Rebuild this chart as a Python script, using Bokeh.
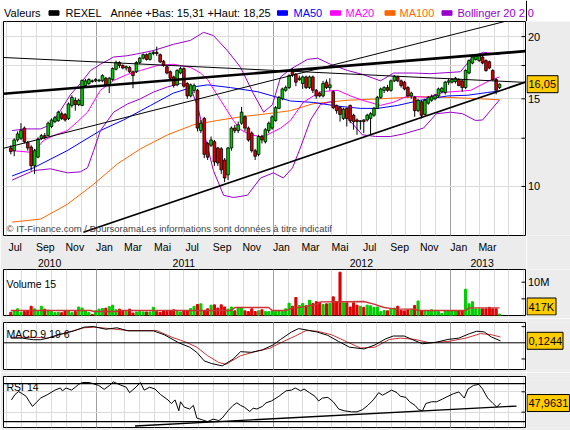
import datetime as dt
from bokeh.plotting import figure
from bokeh.layouts import column, row
from bokeh.models import (Range1d, LinearAxis, FixedTicker, Grid, Label, Span,
                          ColumnDataSource)
from bokeh.embed import file_html
from bokeh.resources import INLINE
from bokeh.core.properties import value

# ---------------- data (weekly candles from 2010-07-09) ----------------
BASE = dt.date(2010, 7, 9)
OPEN = [11.95, 11.8, 12.4, 12.5, 13.1, 12.25, 12.0, 11.0, 11.45, 12.5, 12.65, 12.65, 13.2, 13.5, 13.55,
        14.0, 13.95, 13.7, 14.55, 14.9, 14.6, 14.55, 15.95, 16.1, 16.3, 16.3, 16.3, 16.3, 16.5, 16.0,
        16.4, 17.2, 17.75, 17.5, 17.3, 17.35, 17.0, 17.0, 17.75, 18.1, 18.4, 18.0, 18.5, 18.6, 18.4,
        17.85, 17.4, 17.0, 16.6, 16.0, 16.9, 17.25, 16.1, 15.2, 15.6, 15.6, 12.95, 13.7, 12.2, 12.1,
        12.3, 11.95, 11.9, 11.3, 10.55, 11.95, 13.1, 12.95, 13.4, 13.8, 13.1, 12.8, 11.8, 11.6, 12.6,
        12.3, 12.95, 13.1, 13.55, 14.35, 15.0, 15.6, 15.8, 17.0, 16.8, 16.4, 16.1, 16.6, 15.8, 16.6,
        15.6, 15.4, 15.2, 16.2, 15.8, 15.5, 14.55, 14.4, 13.7, 14.35, 14.55, 13.9, 13.6, 13.5, 13.6,
        13.6, 13.7, 13.9, 14.35, 15.1, 15.6, 15.8, 15.6, 16.3, 16.6, 16.3, 16.2, 15.8, 15.2, 15.1,
        14.2, 14.8, 13.95, 14.7, 14.9, 15.0, 15.2, 15.5, 15.45, 16.2, 16.2, 16.25, 16.4, 16.3, 15.8,
        16.9, 17.7, 18.0, 17.9, 18.2, 17.9, 17.8, 17.1, 16.4, 15.8]
HIGH = [12.1, 12.5, 12.9, 13.4, 13.2, 12.35, 12.1, 11.9, 12.55, 12.75, 12.8, 13.5, 13.7, 13.85, 14.2,
        14.15, 14.05, 14.75, 15.25, 15.1, 15.0, 16.4, 16.45, 16.5, 16.4, 16.5, 16.45, 16.8, 16.6, 16.6,
        17.35, 17.9, 17.85, 17.6, 17.5, 17.45, 17.1, 17.85, 18.2, 18.5, 18.5, 18.6, 18.75, 19.1, 18.5,
        17.95, 17.5, 17.1, 16.7, 17.2, 17.4, 17.35, 16.2, 16.1, 16.1, 15.7, 13.6, 13.8, 12.3, 12.6,
        12.4, 12.0, 12.0, 11.4, 12.0, 13.2, 13.3, 13.5, 14.45, 13.9, 13.2, 12.9, 11.9, 12.7, 12.7,
        13.1, 13.5, 13.9, 14.5, 15.2, 15.8, 15.95, 16.8, 17.3, 16.9, 16.7, 16.7, 16.7, 16.7, 16.7,
        15.7, 15.5, 16.3, 16.4, 16.5, 15.6, 14.6, 14.5, 14.4, 14.4, 14.6, 14.0, 13.7, 13.6, 13.65,
        14.0, 14.1, 14.45, 15.2, 15.8, 15.9, 16.0, 16.4, 16.75, 16.7, 16.4, 16.3, 15.9, 15.5, 15.2,
        15.0, 14.9, 15.0, 15.2, 15.3, 15.35, 15.8, 15.85, 16.3, 16.5, 16.5, 16.6, 16.5, 16.4, 17.2,
        18.0, 18.3, 18.4, 18.4, 18.3, 18.0, 17.9, 17.2, 16.5, 16.1]
LOW = [11.6, 11.5, 12.3, 12.4, 12.2, 11.8, 10.76, 10.6, 11.4, 12.4, 12.45, 12.6, 13.1, 13.4, 13.5,
       13.6, 13.5, 13.6, 14.4, 14.2, 14.5, 14.5, 15.85, 16.0, 16.15, 16.2, 16.2, 16.2, 15.9, 15.4,
       16.3, 17.1, 17.3, 17.2, 17.1, 16.9, 15.75, 16.9, 17.6, 18.0, 17.9, 17.9, 18.35, 18.3, 17.7,
       17.4, 16.8, 16.4, 15.8, 15.9, 16.8, 15.8, 15.0, 15.1, 15.4, 12.9, 12.8, 11.4, 11.3, 12.0,
       11.0, 11.0, 10.6, 10.2, 10.3, 11.8, 12.8, 12.8, 13.3, 12.9, 12.3, 11.7, 11.3, 11.5, 12.2,
       12.2, 12.8, 13.0, 13.5, 14.3, 14.9, 15.5, 15.7, 16.6, 15.9, 16.3, 15.7, 15.7, 15.7, 15.4,
       15.0, 15.1, 15.1, 15.7, 15.6, 14.3, 14.0, 13.5, 13.6, 13.2, 13.4, 13.0, 12.7, 13.0, 12.8,
       13.5, 12.7, 13.8, 14.3, 15.0, 15.4, 15.5, 15.5, 16.2, 16.2, 15.8, 15.6, 15.1, 15.0, 13.8,
       14.1, 13.7, 13.9, 14.6, 14.8, 14.9, 15.1, 15.4, 15.3, 16.0, 16.1, 16.1, 15.9, 15.5, 15.7,
       16.8, 17.6, 17.9, 17.8, 17.6, 17.0, 17.2, 16.3, 15.31, 15.7]
CLOSE = [11.75, 12.4, 12.75, 12.95, 12.3, 11.95, 11.0, 11.8, 12.45, 12.65, 12.55, 13.4, 13.6, 13.75, 14.1,
         13.7, 13.6, 14.65, 15.1, 14.6, 14.9, 16.33, 16.3, 16.4, 16.25, 16.4, 16.35, 16.7, 16.0, 16.5,
         17.25, 17.75, 17.5, 17.3, 17.4, 17.0, 16.7, 17.75, 18.1, 18.4, 18.0, 18.5, 18.6, 18.5, 17.8,
         17.5, 16.9, 16.5, 15.95, 17.1, 17.25, 15.9, 15.2, 16.0, 15.95, 13.1, 13.4, 11.6, 11.45, 12.4,
         11.2, 11.15, 10.8, 10.4, 11.95, 13.1, 12.95, 13.3, 14.1, 13.1, 12.4, 11.8, 11.5, 12.6, 12.4,
         13.0, 13.4, 13.8, 14.4, 15.1, 15.7, 15.8, 16.7, 16.75, 16.2, 16.5, 16.6, 15.8, 16.6, 15.6,
         15.2, 15.2, 16.1, 15.8, 16.0, 14.4, 14.2, 13.95, 14.3, 13.7, 13.55, 13.5, 13.5, 13.55, 13.5,
         13.9, 14.0, 14.35, 15.1, 15.7, 15.8, 15.6, 16.3, 16.65, 16.3, 15.95, 15.7, 15.2, 15.4, 14.2,
         14.9, 13.9, 14.9, 15.1, 15.15, 15.25, 15.7, 15.75, 16.2, 16.3, 16.4, 16.5, 15.95, 15.8, 17.1,
         17.9, 18.2, 18.25, 18.3, 17.7, 17.1, 17.3, 16.4, 15.6, 16.05]
VOLUME_M = [0.96, 1.4, 2.0, 0.96, 1.17, 1.4, 2.77, 2.0, 1.17, 2.77, 1.9, 1.6, 1.17, 0.85, 0.96,
            0.85, 1.4, 1.4, 0.85, 1.17, 2.55, 2.23, 1.4, 0.85, 0.32, 1.4, 1.9, 2.1, 2.2, 2.65,
            3.1, 1.7, 1.9, 1.4, 1.17, 1.9, 0.75, 1.06, 1.17, 1.06, 1.06, 1.06, 2.45, 1.17, 0.96,
            1.4, 1.28, 1.4, 1.7, 1.17, 1.06, 1.4, 1.4, 2.1, 2.77, 3.3, 3.5, 1.4, 2.0, 3.1,
            3.2, 2.23, 3.2, 2.55, 1.9, 2.55, 1.4, 2.23, 2.23, 1.4, 1.17, 2.0, 1.17, 1.4, 1.7,
            1.17, 1.17, 1.4, 1.17, 1.4, 1.17, 2.0, 3.7, 2.77, 5.4, 3.0, 3.6, 2.9, 4.6, 3.6,
            4.15, 4.0, 3.3, 3.5, 3.6, 5.6, 4.15, 13.0, 3.8, 3.8, 2.55, 3.8, 3.1, 2.77, 2.45,
            3.1, 2.9, 2.45, 2.55, 1.17, 1.5, 1.4, 1.9, 2.23, 2.77, 1.5, 1.4, 1.7, 1.9, 3.0,
            4.36, 1.4, 1.4, 1.4, 1.7, 1.4, 1.17, 0.64, 1.4, 1.4, 1.4, 1.4, 1.4, 1.4, 7.9,
            3.5, 4.15, 2.0, 2.0, 2.0, 2.0, 2.45, 2.0, 2.0, 0.42]

# indicator curves, x in weeks since first candle
MA50_W = [0.4, 6.7, 16.6, 26.4, 33.2, 41.2, 47.9, 53.8, 58.0, 64.7, 72.7, 78.6, 82.4, 89.2, 96.3,
          103.0, 108.1, 114.0, 120.7, 128.7, 134.6, 140.5, 144.0]
MA50 = [10.5, 10.9, 11.8, 12.95, 13.6, 14.55, 15.4, 15.85, 16.0, 15.8, 15.5, 15.1, 14.85, 14.75, 14.5,
        14.35, 14.35, 14.55, 14.9, 15.2, 15.25, 15.45, 15.55]
MA100_W = [0.4, 8.8, 16.6, 24.4, 31.4, 38.2, 46.2, 53.8, 60.9, 67.7, 75.6, 82.4, 89.2, 99.2, 108.9,
           120.7, 128.7, 138.4, 144.0]
MA100 = [8.48, 8.6, 9.2, 10.1, 11.1, 11.9, 12.7, 13.3, 13.57, 13.8, 14.0, 14.2, 14.67, 14.9, 15.0,
         15.15, 15.1, 15.0, 14.93]
MA20_W = [0.4, 6.7, 9.6, 13.2, 16.7, 19.7, 22.6, 26.4, 30.3, 34.4, 38.2, 43.2, 47.9, 52.9, 55.9,
          58.0, 59.7, 61.8, 65.6, 67.7, 70.6, 73.6, 75.6, 79.5, 82.4, 86.2, 91.2, 96.3, 100.1, 103.6,
          108.9, 112.8, 116.9, 122.5, 127.5, 135.5, 141.3, 144.0]
MA20 = [11.8, 11.7, 12.37, 12.7, 12.95, 13.5, 14.1, 15.6, 16.33, 16.8, 17.1, 17.5, 17.6, 17.35, 16.9,
        16.4, 15.7, 14.9, 13.57, 13.0, 12.7, 12.6, 12.7, 13.1, 13.57, 14.77, 15.5, 15.6, 15.2, 14.9,
        14.55, 14.77, 15.2, 15.1, 15.45, 15.6, 16.35, 16.6]
BBU_W = [0.4, 4.3, 8.8, 11.7, 14.6, 17.6, 20.5, 23.5, 26.4, 30.3, 34.1, 37.0, 42.0, 47.9, 52.9,
         56.8, 59.7, 63.8, 67.7, 71.5, 74.5, 77.1, 79.5, 82.4, 87.4, 90.4, 94.2, 99.2, 103.6, 108.9,
         112.8, 118.6, 123.7, 132.5, 136.3, 139.3, 144.0]
BBU = [12.95, 13.05, 13.05, 13.3, 14.2, 15.3, 16.1, 17.1, 17.6, 18.2, 18.3, 18.45, 18.75, 19.3, 19.65,
       20.4, 20.1, 18.75, 17.35, 15.35, 14.1, 14.6, 16.6, 17.2, 18.0, 18.1, 17.6, 17.1, 16.8, 16.3,
       16.9, 16.9, 16.85, 17.0, 18.3, 18.6, 18.4]
BBL_W = [0.4, 6.7, 11.7, 16.7, 20.5, 22.6, 24.4, 26.4, 30.3, 34.4, 38.2, 42.0, 46.2, 50.0, 52.9,
         55.0, 56.8, 59.7, 62.7, 65.6, 69.7, 73.6, 77.4, 80.3, 83.0, 85.4, 88.3, 91.2, 94.2, 97.1,
         100.1, 103.6, 107.5, 111.9, 115.7, 121.6, 125.4, 129.6, 133.1, 136.9, 139.0, 141.3, 144.0]
BBL = [10.3, 10.76, 10.85, 10.65, 10.7, 10.9, 11.8, 12.95, 14.1, 14.65, 15.0, 15.47, 15.85, 16.1, 15.85,
       14.5, 12.95, 10.76, 9.6, 9.5, 9.6, 10.4, 10.65, 10.4, 10.9, 12.0, 13.6, 14.6, 14.8, 14.3,
       13.5, 12.7, 12.6, 12.6, 12.75, 13.1, 14.0, 14.1, 14.0, 13.57, 13.6, 14.2, 14.93]

# drawn trend lines: (weeks, prices)
TREND_THICK_W, TREND_THICK = [-2.15, 151.6], [15.35, 18.7]
TREND_DOWN_W, TREND_DOWN = [-2.15, 151.9], [18.16, 16.18]
TREND_UP_W, TREND_UP = [-2.15, 151.9], [11.93, 22.0]
TREND_SUPPORT_W, TREND_SUPPORT = [21.4, 151.6], [8.09, 16.2]

VMA_W = [0, 23.5, 24.5, 31, 32, 65, 66, 76, 77, 81, 83, 86, 90, 91.5, 104, 107, 110, 113.5, 119, 120,
         134, 135, 144]
VMA = [1.5, 1.5, 1.2, 1.2, 1.5, 1.5, 2.4, 2.4, 1.5, 1.5, 2.2, 2.6, 3.3, 4.1, 4.2, 3.4, 2.4, 1.9, 1.9,
       1.5, 1.5, 2.3, 2.3]

MACD_W = [0, 3.4, 6.6, 8.8, 10.9, 14.1, 18.4, 21.6, 24.3, 28.0, 31.3, 34.5, 42.0, 45.2, 49.5, 52.7,
          54.8, 57.0, 59.1, 62.3, 65.5, 67.7, 70.9, 74.1, 77.3, 79.5, 82.7, 84.8, 87.0, 90.2, 93.4,
          96.6, 99.8, 104.1, 107.3, 110.5, 112.7, 115.9, 119.1, 121.3, 125.5, 128.8, 132.0, 135.2,
          137.3, 139.5, 141.6, 144.3]
MACD = [0.29, 0.29, 0.19, 0.19, 0.29, 0.5, 0.72, 0.97, 1.01, 0.84, 0.93, 0.74, 0.74, 0.5, 0.0, -0.27,
        -0.59, -1.12, -1.28, -1.43, -1.01, -0.55, -0.59, -0.44, -0.13, 0.21, 0.67, 0.88, 0.8, 0.67,
        0.46, 0.08, -0.27, -0.38, -0.13, 0.25, 0.42, 0.42, 0.13, -0.06, 0.04, 0.21, 0.29, 0.57, 0.72,
        0.67, 0.36, 0.12]
SIG_W = [0, 7.7, 10.9, 16.3, 21.6, 24.8, 29.1, 34.5, 43.0, 47.3, 51.6, 54.8, 58.0, 61.3, 63.4, 67.7,
         72.0, 76.3, 79.5, 83.8, 87.0, 90.2, 94.5, 98.8, 103.0, 107.3, 111.6, 114.8, 119.1, 123.4,
         128.8, 134.1, 138.4, 141.6, 144.3]
SIG = [0.34, 0.34, 0.29, 0.63, 0.93, 0.97, 0.88, 0.76, 0.76, 0.36, 0.04, -0.27, -0.8, -1.22, -1.33,
       -0.8, -0.55, -0.34, 0.0, 0.42, 0.76, 0.72, 0.5, 0.08, -0.32, -0.27, 0.21, 0.29, 0.21, 0.0,
       0.08, 0.29, 0.57, 0.5, 0.36]

RSI_W = [0.2, 1.25, 2.3, 3.4, 4.5, 5.5, 6.4, 7.7, 8.8, 10.9, 13.0, 14.6, 15.2, 16.3, 17.9, 19.0, 20.0,
         21.1, 23.2, 24.8, 25.9, 27.5, 29.1, 30.2, 31.8, 34.0, 35.0, 36.6, 38.2, 39.3, 40.9, 42.5,
         44.1, 46.3, 47.3, 48.4, 49.5, 50.0, 51.1, 52.7, 53.8, 54.8, 56.4, 58.0, 59.6, 61.3, 62.3,
         64.0, 65.5, 66.6, 67.7, 68.8, 70.4, 71.4, 72.5, 74.1, 75.2, 76.8, 79.0, 81.1, 82.7, 83.8,
         85.4, 86.4, 88.0, 89.6, 90.7, 91.8, 93.4, 95.0, 96.6, 98.2, 100.4, 102.0, 103.6, 105.2,
         106.8, 108.4, 109.5, 110.5, 112.2, 113.8, 114.8, 116.4, 117.5, 119.1, 120.2, 121.3, 122.3,
         124.0, 125.5, 127.1, 128.8, 130.4, 132.0, 133.6, 134.7, 136.3, 137.9, 139.0, 140.5, 142.1,
         143.2, 144.3]
RSI = [54.1, 64.8, 70.4, 66.2, 61.2, 50.5, 41.3, 50.5, 57.7, 64.8, 73.3, 77.5, 71.9, 77.5, 73.3, 79.0,
       84.7, 88.2, 88.2, 84.7, 82.5, 74.7, 82.5, 89.6, 84.7, 79.0, 68.3, 77.5, 88.2, 73.3, 79.0, 75.4,
       64.8, 54.1, 47.0, 54.1, 32.8, 50.5, 39.9, 36.3, 43.4, 18.6, 15.0, 11.5, 16.4, 13.6, 18.6, 32.8,
       43.4, 48.4, 43.4, 39.9, 31.4, 37.8, 36.3, 41.3, 48.4, 52.0, 61.2, 71.9, 73.3, 77.5, 71.9, 75.4,
       68.3, 61.2, 52.0, 57.7, 59.1, 50.5, 36.3, 32.8, 30.7, 30.7, 34.9, 43.4, 54.1, 68.3, 63.3, 66.9,
       73.3, 68.3, 61.2, 59.1, 50.5, 43.4, 34.9, 32.8, 47.0, 50.5, 50.5, 55.5, 61.2, 66.2, 69.7, 57.7,
       75.4, 82.5, 84.7, 75.4, 57.7, 47.0, 40.0, 47.96]
RSI_TREND_W, RSI_TREND = [36.6, 149.0], [3.0, 42.0]
RSI_BANDS = [86.1, 11.5]

MONTH_NAMES = {1: "Jan", 3: "Mar", 5: "Mai", 7: "Jul", 9: "Sep", 11: "Nov"}
YEAR_LABELS = {"2010": dt.date(2010, 9, 27), "2011": dt.date(2011, 7, 1),
               "2012": dt.date(2012, 7, 1), "2013": dt.date(2013, 3, 7)}

# ---------------- layout helpers ----------------
FONT = "Liberation Sans"
GRAY = "#ECECEC"
GREEN = "#00CC00"
RED = "#DD0000"
YELLOW = "#FFCC00"
FW = 523      # plot frame width
SW = 44       # right label column width


def days(d):
    return (d - BASE).days


def wk(ws):
    return [w * 7 for w in ws]


MONTH_STARTS, MONTH_LABEL_POS, MONTH_OVR = [], [], {}
y, m = 2010, 7
while (y, m) <= (2013, 6):
    d0 = days(dt.date(y, m, 1))
    MONTH_STARTS.append(d0)
    if m in MONTH_NAMES and (y, m) <= (2013, 3):
        MONTH_LABEL_POS.append(d0 + 17)
        MONTH_OVR[d0 + 17] = MONTH_NAMES[m]
    m += 1
    if m > 12:
        y, m = y + 1, 1
YEAR_STARTS = [days(dt.date(yy, 1, 1)) for yy in (2011, 2012, 2013)]
YEAR_POS = [days(d) for d in YEAR_LABELS.values()]
YEAR_OVR = {days(d): t for t, d in YEAR_LABELS.items()}

XR = Range1d(-15.05, 1063.6)


def base_fig(**kw):
    p = figure(toolbar_location=None, output_backend="svg", x_axis_location=None,
               y_axis_location=None, **kw)
    p.grid.visible = False
    return p


def panel(fh, yr, top, bottom, ticks, ytype="linear"):
    p = base_fig(frame_width=FW, frame_height=fh, x_range=XR, y_range=yr, y_axis_type=ytype,
                 min_border_left=3, min_border_right=0, min_border_top=top,
                 min_border_bottom=bottom, background_fill_color="white",
                 border_fill_color=GRAY, outline_line_color="black", outline_line_width=1)
    p.add_layout(Grid(dimension=0, ticker=FixedTicker(ticks=MONTH_STARTS),
                      grid_line_color="#DCDCDC"))
    p.add_layout(Grid(dimension=0, ticker=FixedTicker(ticks=YEAR_STARTS),
                      grid_line_color="#A0A0A0"))
    # inward tick marks on the right edge (half of each dash is clipped away)
    p.scatter(x=[XR.end] * len(ticks), y=ticks, marker="dash", size=10,
              line_color="black", line_width=1)
    s = base_fig(frame_width=SW, frame_height=fh, x_range=Range1d(0, SW), y_range=yr,
                 y_axis_type=ytype, min_border_left=0, min_border_right=0,
                 min_border_top=top, min_border_bottom=bottom,
                 background_fill_color=GRAY, border_fill_color=GRAY,
                 outline_line_color=None)
    return p, s


def side_labels(s, yvals, texts):
    s.text(x=[1.5] * len(yvals), y=yvals, text=texts, text_font=value(FONT),
           text_font_size="11px", text_baseline="middle", text_color="black")


def value_box(s, yv, text, w):
    s.rect(x=[0.5 + w / 2], y=[yv], width=[w], height=17, height_units="screen",
           fill_color=YELLOW, line_color="black", line_width=1)
    s.text(x=[2], y=[yv], text=[text], text_font=value(FONT), text_font_size="11px",
           text_baseline="middle", text_color="black")


def corner_label(p, fh, text, dy):
    p.add_layout(Label(x=3, y=fh - dy, x_units="screen", y_units="screen", text=text,
                       text_font=FONT, text_font_size="10.5px", text_baseline="middle",
                       text_color="black"))


# ---------------- header legend ----------------
hdr = base_fig(width=FW + 3 + SW, height=21, x_range=Range1d(0, FW + 3 + SW),
               y_range=Range1d(0, 21), min_border=0, outline_line_color=None,
               background_fill_color="white", border_fill_color="white")
LEG_TEXT = ["Valeurs", "REXEL", "Année +Bas: 15,31 +Haut: 18,25", "MA50", "MA20", "MA100",
            "Bollinger 20 2,0"]
LEG_TEXT_COL = ["black", "black", "black", "#0000FF", "#FF00FF", "#FF6600", "#9900CC"]
LEG_TEXT_X = [3.6, 65, 110, 293, 345, 399, 457]
LEG_BOX_COL = ["black", "#0000FF", "#FF00FF", "#FF6600", "#9900CC"]
LEG_BOX_X = [53.5, 282, 335, 389.5, 446.5]
hdr.text(x=LEG_TEXT_X, y=[8.5] * len(LEG_TEXT), text=LEG_TEXT, text_color=LEG_TEXT_COL,
         text_font=value(FONT), text_font_size="11px", text_baseline="middle")
hdr.rect(x=LEG_BOX_X, y=[8.5] * len(LEG_BOX_X), width=10, height=4.5, color=LEG_BOX_COL)
hdr.segment(x0=[FW + 3], y0=[0], x1=[FW + 3], y1=[21], color="black", line_width=1)

# ---------------- main price panel ----------------
main, main_s = panel(214, Range1d(7.97, 21.45), 0, 34, [10, 12.5, 15, 17.5, 20], ytype="log")
main.add_layout(Grid(dimension=1, ticker=FixedTicker(ticks=[10, 12.5, 15, 17.5, 20]),
                     grid_line_color="#DCDCDC"))
xs = [7 * i for i in range(len(CLOSE))]
cols = [GREEN if c >= o else RED for o, c in zip(OPEN, CLOSE)]
src = ColumnDataSource(dict(x=xs, o=OPEN, h=HIGH, l=LOW, c=CLOSE, col=cols,
                            top=[max(o, c) for o, c in zip(OPEN, CLOSE)],
                            bot=[min(o, c) for o, c in zip(OPEN, CLOSE)]))

main.line(wk(MA100_W), MA100, color="#FF6600", line_width=1)
main.line(wk(MA50_W), MA50, color="#0000FF", line_width=1)
main.line(wk(MA20_W), MA20, color="#FF00FF", line_width=1)
main.line(wk(BBU_W), BBU, color="#9900CC", line_width=1)
main.line(wk(BBL_W), BBL, color="#9900CC", line_width=1)
main.segment(x0="x", y0="l", x1="x", y1="h", source=src, color="black", line_width=1)
main.vbar(x="x", width=5.5, top="top", bottom="bot", source=src, fill_color="col",
          line_color="black", line_width=0.8)
main.line(wk(TREND_DOWN_W), TREND_DOWN, color="black", line_width=1)
main.line(wk(TREND_UP_W), TREND_UP, color="black", line_width=1)
main.line(wk(TREND_THICK_W), TREND_THICK, color="black", line_width=2.6)
main.line(wk(TREND_SUPPORT_W), TREND_SUPPORT, color="black", line_width=1.8)

for ticks, ovr, standoff in ((MONTH_LABEL_POS, MONTH_OVR, 5), (YEAR_POS, YEAR_OVR, 3)):
    ax = LinearAxis(ticker=FixedTicker(ticks=ticks), major_label_overrides=ovr,
                    axis_line_color=None, major_tick_in=0, major_tick_out=0,
                    major_label_standoff=standoff, major_label_text_font=FONT,
                    major_label_text_font_size="10.5px", major_label_text_color="black")
    main.add_layout(ax, "below")
main.add_layout(Label(x=3, y=7, x_units="screen", y_units="screen",
                      text="© IT-Finance.com / BoursoramaLes informations sont données à titre indicatif",
                      text_font=FONT, text_font_size="9.5px", text_baseline="middle"))
side_labels(main_s, [10, 15, 20], ["10", "15", "20"])
value_box(main_s, 16.05, "16,05", 31)

# ---------------- volume panel ----------------
vol, vol_s = panel(46, Range1d(0, 13.81), 0, 3, [5, 10])
vol.vbar(x=xs, top=VOLUME_M, width=4.3, color=cols)
vol.line(wk(VMA_W), VMA, color="#CC3333", line_width=1.4)
corner_label(vol, 46, "Volume 15", 14)
side_labels(vol_s, [10], ["10M"])
value_box(vol_s, 2.7, "417K", 29)

# ---------------- MACD panel ----------------
macd, macd_s = panel(47, Range1d(-1.653, 1.257), 4, 3, [-1, 1])
macd.add_layout(Span(location=0, dimension="width", line_color="black", line_width=1))
macd.line(wk(SIG_W), SIG, color="#CC3333", line_width=1)
macd.line(wk(MACD_W), MACD, color="black", line_width=1)
corner_label(macd, 47, "MACD 9 19 6", 11)
value_box(macd_s, 0.1244, "0,1244", 36)

# ---------------- RSI panel ----------------
rsi, rsi_s = panel(51, Range1d(0, 100), 4, 3, [30, 70])
rsi.add_layout(Grid(dimension=1, ticker=FixedTicker(ticks=[30, 70]), grid_line_color="#DCDCDC"))
for lv in RSI_BANDS:
    rsi.add_layout(Span(location=lv, dimension="width", line_color="black", line_width=1.2))
rsi.line(wk(RSI_TREND_W), RSI_TREND, color="black", line_width=1.4)
rsi.line(wk(RSI_W), RSI, color="black", line_width=1)
corner_label(rsi, 51, "RSI 14", 10)
value_box(rsi_s, 47.9631, "47,9631", 42.5)

layout = column(hdr, row(main, main_s, spacing=0), row(vol, vol_s, spacing=0),
                row(macd, macd_s, spacing=0), row(rsi, rsi_s, spacing=0), spacing=0)
open("out.html", "w").write(file_html(layout, INLINE))
